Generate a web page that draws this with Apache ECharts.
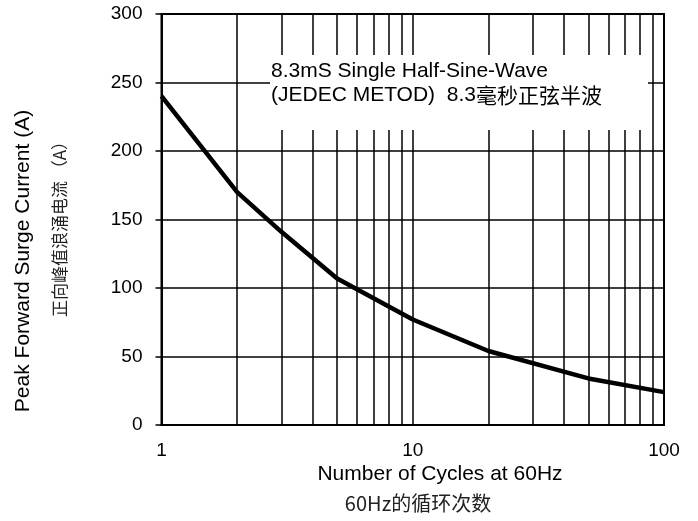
<!DOCTYPE html>
<html><head><meta charset="utf-8">
<script src="https://cdn.jsdelivr.net/npm/echarts@6/dist/echarts.min.js"></script>
<style>html,body{margin:0;padding:0;background:#fff}#c{width:698px;height:521px}</style>
</head><body><div id="c"></div>
<script>
const cycles = [1, 2, 3, 5, 10, 20, 50, 100];
const surgeCurrent = [240, 170, 141, 107, 77, 54, 34, 24];
const minorGridX = [2,3,4,5,6,7,8,9,20,30,40,50,60,70,80,90];
const yTicks = [0, 50, 100, 150, 200, 250, 300];

const EN = '"Liberation Sans", Arial, sans-serif';
const CJK = '"Noto Sans CJK SC", sans-serif';

const chart = echarts.init(document.getElementById('c'), null, {renderer:'canvas'});
chart.setOption({
  animation: false,
  backgroundColor: '#fff',
  grid: { left: 161.5, right: 34, top: 14, bottom: 96, show: true, borderColor: '#000', borderWidth: 2, backgroundColor: 'transparent' },
  xAxis: {
    type: 'log', logBase: 10, min: cycles[0], max: cycles[cycles.length-1],
    axisLine: { show: true, lineStyle: { color: '#000', width: 2 } },
    axisTick: { show: false },
    axisLabel: { color: '#000', fontSize: 19, fontFamily: EN, margin: 16 },
    splitLine: { show: true, lineStyle: { color: '#000', width: 1.5 } },
    minorTick: { show: false }, minorSplitLine: { show: false }
  },
  yAxis: {
    type: 'value', min: yTicks[0], max: yTicks[yTicks.length-1], interval: 50,
    axisLine: { show: true, lineStyle: { color: '#000', width: 2 } },
    axisTick: { show: true, inside: false, length: 6, lineStyle: { color: '#000', width: 1.5 } },
    axisLabel: { color: '#000', fontSize: 19, fontFamily: EN, margin: 19 },
    splitLine: { show: true, lineStyle: { color: '#000', width: 1.5 } }
  },
  series: [{
    type: 'line',
    data: cycles.map((c, i) => [c, surgeCurrent[i]]),
    symbol: 'none',
    smooth: false,
    lineStyle: { color: '#000', width: 4.5 },
    z: 5,
    markLine: {
      silent: true, symbol: 'none', label: { show: false },
      lineStyle: { color: '#000', width: 1.5, type: 'solid' },
      data: minorGridX.map(v => ({ xAxis: v })),
      z: 1
    }
  }],
  graphic: [
    { type: 'rect', z: 100, shape: { x: 270, y: 55, width: 378, height: 75 }, style: { fill: '#fff' } },
    { type: 'text', z: 101, x: 271, y: 71, style: { text: '8.3mS Single Half-Sine-Wave', font: '21px ' + EN, fill: '#000', verticalAlign: 'middle' } },
    { type: 'text', z: 101, x: 271, y: 95, style: {
      text: '{e|(JEDEC METOD)  8.3}{c|毫秒正弦半波}', verticalAlign: 'middle',
      rich: { e: { fontSize: 21, fontFamily: EN, color: '#000' }, c: { fontSize: 21, fontFamily: CJK, color: '#333' } }
    } },
    { type: 'text', z: 101, x: 23, y: 261, rotation: Math.PI/2, style: { text: 'Peak Forward Surge Current (A)', font: '21px ' + EN, fill: '#000', align: 'center', verticalAlign: 'middle' } },
    { type: 'text', z: 101, x: 60, y: 225, rotation: Math.PI/2, style: { text: '正向峰值浪涌电流 （A）', font: '17px ' + CJK, fill: '#222', align: 'center', verticalAlign: 'middle' } },
    { type: 'text', z: 101, x: 440, y: 474, style: { text: 'Number of Cycles at 60Hz', font: '21px ' + EN, fill: '#000', align: 'center', verticalAlign: 'middle' } },
    { type: 'text', z: 101, x: 418, y: 503, style: { text: '60Hz的循环次数', font: '20px ' + CJK, fill: '#222', align: 'center', verticalAlign: 'middle' } }
  ]
});
</script></body></html>
